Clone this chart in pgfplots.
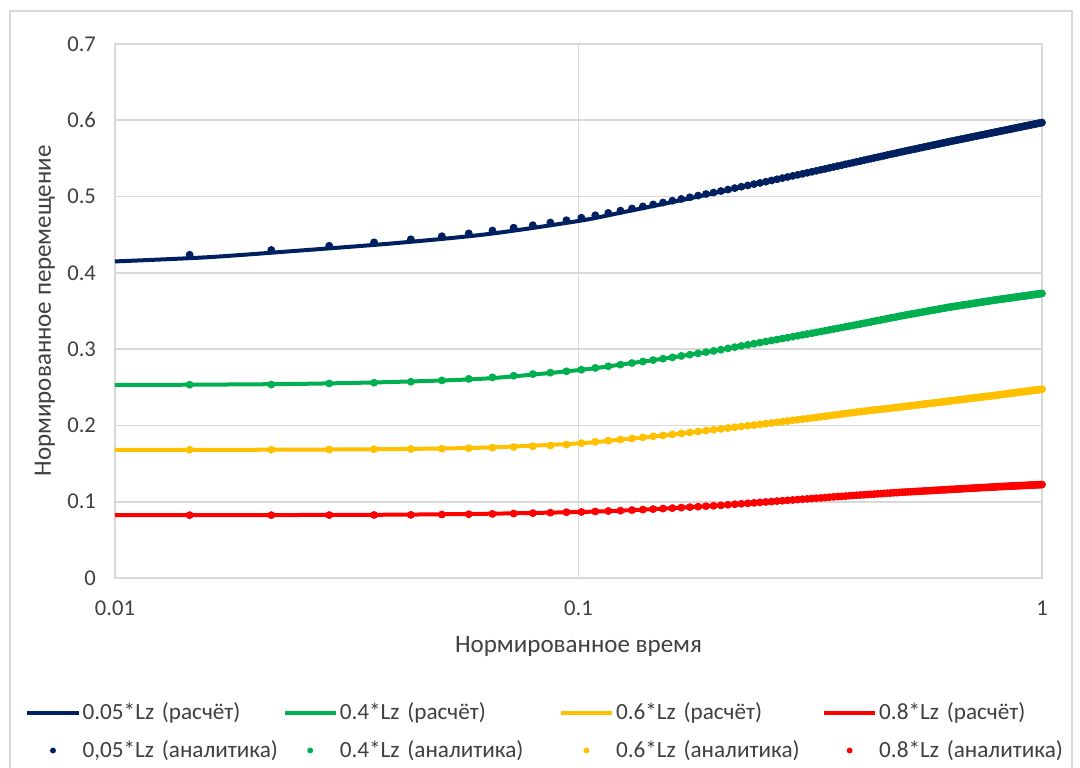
\documentclass[border=0pt]{standalone}
\usepackage{pgfplots}
\pgfplotsset{compat=1.18}
\usepackage{pgfplotstable}
\usepackage{fontspec}
\setmainfont{Carlito}
\definecolor{cnavy}{HTML}{002060}
\definecolor{cgreen}{HTML}{00B050}
\definecolor{cyellow}{HTML}{FFC000}
\definecolor{cred}{HTML}{FF0000}
\definecolor{cgrid}{HTML}{D9D9D9}
\definecolor{ctext}{HTML}{404040}

% computed curves (x, 0.05Lz, 0.4Lz, 0.6Lz, 0.8Lz)
\pgfplotstableread{
x a b c d
0.01 0.4150 0.2530 0.1680 0.0825
0.01585 0.4205 0.2535 0.1680 0.0825
0.02512 0.4293 0.2545 0.1683 0.0826
0.03981 0.4387 0.2570 0.1690 0.0830
0.0631 0.4505 0.2615 0.1710 0.0842
0.1 0.4680 0.2725 0.1765 0.0865
0.1259 0.4800 0.2805 0.1820 0.0885
0.1585 0.4925 0.2890 0.1880 0.0915
0.1995 0.5055 0.2985 0.1950 0.0950
0.2512 0.5190 0.3095 0.2020 0.0995
0.3162 0.5320 0.3205 0.2095 0.1040
0.3981 0.5455 0.3320 0.2175 0.1085
0.5012 0.5590 0.3440 0.2245 0.1125
0.631 0.5720 0.3550 0.2320 0.1160
0.7943 0.5845 0.3645 0.2395 0.1195
1.0 0.5970 0.3730 0.2475 0.1225
}\linedata

% analytic points
\pgfplotstableread{
x a b c d
0.01449 .4237 .2533 .1680 .0824
0.02174 .4300 .2536 .1681 .0824
0.02899 .4355 .2550 .1684 .0825
0.03623 .4400 .2560 .1688 .0826
0.04348 .4440 .2573 .1691 .0828
0.05072 .4480 .2590 .1695 .0832
0.05797 .4517 .2610 .1701 .0836
0.06522 .4555 .2630 .1708 .0840
0.07246 .4592 .2652 .1717 .0845
0.07971 .4625 .2673 .1727 .0850
0.08696 .4660 .2692 .1737 .0856
0.09420 .4690 .2710 .1749 .0862
0.10145 .4722 .2730 .1768 .0866
0.10870 .4755 .2754 .1785 .0872
0.11594 .4786 .2776 .1800 .0878
0.12319 .4816 .2797 .1815 .0883
0.13043 .4844 .2818 .1829 .0890
0.13768 .4871 .2838 .1843 .0897
0.14493 .4897 .2857 .1857 .0903
0.15217 .4922 .2875 .1869 .0910
0.15942 .4946 .2892 .1882 .0916
0.16667 .4969 .2911 .1895 .0923
0.17391 .4991 .2928 .1908 .0929
0.18116 .5013 .2945 .1921 .0935
0.18841 .5034 .2961 .1933 .0941
0.19565 .5053 .2977 .1944 .0947
0.20290 .5073 .2993 .1955 .0953
0.21014 .5092 .3010 .1966 .0960
0.21739 .5111 .3026 .1976 .0967
0.22464 .5129 .3042 .1986 .0973
0.23188 .5146 .3057 .1996 .0979
0.23913 .5163 .3071 .2005 .0985
0.24638 .5179 .3086 .2014 .0991
0.25362 .5195 .3100 .2023 .0997
0.26087 .5211 .3113 .2032 .1002
0.26812 .5227 .3126 .2041 .1008
0.27536 .5242 .3139 .2050 .1013
0.28261 .5257 .3151 .2058 .1018
0.28986 .5271 .3163 .2067 .1023
0.29710 .5285 .3175 .2075 .1028
0.30435 .5298 .3187 .2083 .1033
0.31159 .5312 .3198 .2090 .1037
0.31884 .5325 .3209 .2098 .1042
0.32609 .5338 .3220 .2106 .1046
0.33333 .5351 .3231 .2113 .1050
0.34058 .5363 .3242 .2121 .1054
0.34783 .5376 .3253 .2128 .1059
0.35507 .5388 .3263 .2135 .1063
0.36232 .5400 .3273 .2142 .1067
0.36957 .5411 .3283 .2149 .1070
0.37681 .5423 .3293 .2156 .1074
0.38406 .5434 .3302 .2163 .1078
0.39130 .5445 .3311 .2169 .1082
0.39855 .5456 .3321 .2175 .1085
0.40580 .5466 .3330 .2181 .1088
0.41304 .5477 .3339 .2186 .1091
0.42029 .5487 .3348 .2191 .1094
0.42754 .5497 .3357 .2197 .1097
0.43478 .5507 .3366 .2202 .1100
0.44203 .5516 .3375 .2207 .1103
0.44928 .5526 .3383 .2212 .1106
0.45652 .5535 .3391 .2217 .1109
0.46377 .5545 .3400 .2221 .1112
0.47101 .5554 .3408 .2226 .1114
0.47826 .5563 .3416 .2231 .1117
0.48551 .5571 .3423 .2235 .1119
0.49275 .5580 .3431 .2240 .1122
0.50000 .5589 .3439 .2244 .1125
0.50725 .5597 .3446 .2249 .1127
0.51449 .5605 .3453 .2254 .1129
0.52174 .5613 .3459 .2258 .1131
0.52899 .5620 .3466 .2263 .1133
0.53623 .5628 .3472 .2267 .1135
0.54348 .5636 .3479 .2271 .1137
0.55072 .5643 .3485 .2276 .1139
0.55797 .5651 .3491 .2280 .1141
0.56522 .5658 .3497 .2284 .1143
0.57246 .5665 .3504 .2288 .1145
0.57971 .5672 .3510 .2292 .1147
0.58696 .5679 .3515 .2296 .1149
0.59420 .5686 .3521 .2300 .1151
0.60145 .5693 .3527 .2304 .1153
0.60870 .5700 .3533 .2308 .1155
0.61594 .5706 .3538 .2312 .1156
0.62319 .5713 .3544 .2316 .1158
0.63043 .5720 .3550 .2320 .1160
0.63768 .5726 .3554 .2323 .1162
0.64493 .5732 .3559 .2327 .1163
0.65217 .5738 .3564 .2331 .1165
0.65942 .5744 .3568 .2334 .1167
0.66667 .5750 .3573 .2338 .1168
0.67391 .5756 .3577 .2341 .1170
0.68116 .5762 .3582 .2345 .1172
0.68841 .5767 .3586 .2348 .1173
0.69565 .5773 .3590 .2352 .1175
0.70290 .5779 .3595 .2355 .1176
0.71014 .5784 .3599 .2359 .1178
0.71739 .5790 .3603 .2362 .1180
0.72464 .5795 .3607 .2365 .1181
0.73188 .5801 .3611 .2368 .1183
0.73913 .5806 .3615 .2372 .1184
0.74638 .5811 .3619 .2375 .1186
0.75362 .5816 .3623 .2378 .1187
0.76087 .5822 .3627 .2381 .1188
0.76812 .5827 .3631 .2384 .1190
0.77536 .5832 .3635 .2387 .1191
0.78261 .5837 .3639 .2390 .1193
0.78986 .5842 .3643 .2393 .1194
0.79710 .5847 .3646 .2396 .1195
0.80435 .5852 .3650 .2399 .1197
0.81159 .5857 .3653 .2402 .1198
0.81884 .5862 .3656 .2406 .1199
0.82609 .5866 .3659 .2409 .1200
0.83333 .5871 .3663 .2412 .1201
0.84058 .5876 .3666 .2415 .1202
0.84783 .5880 .3669 .2418 .1203
0.85507 .5885 .3672 .2421 .1205
0.86232 .5890 .3675 .2424 .1206
0.86957 .5894 .3678 .2426 .1207
0.87681 .5899 .3681 .2429 .1208
0.88406 .5903 .3685 .2432 .1209
0.89130 .5908 .3688 .2435 .1210
0.89855 .5912 .3691 .2438 .1211
0.90580 .5916 .3693 .2441 .1212
0.91304 .5921 .3696 .2443 .1213
0.92029 .5925 .3699 .2446 .1214
0.92754 .5929 .3702 .2449 .1215
0.93478 .5933 .3705 .2452 .1216
0.94203 .5938 .3708 .2454 .1217
0.94928 .5942 .3711 .2457 .1218
0.95652 .5946 .3714 .2460 .1219
0.96377 .5950 .3716 .2462 .1220
0.97101 .5954 .3719 .2465 .1221
0.97826 .5958 .3722 .2467 .1222
0.98551 .5962 .3725 .2470 .1223
0.99275 .5966 .3727 .2472 .1224
1.00000 .5970 .3730 .2475 .1225
}\dotdata

\begin{document}
\begin{tikzpicture}
\useasboundingbox (0,0) rectangle (540pt,383.5pt);
\fill[white] (0,0) rectangle (540pt,383.5pt);
\draw[cgrid, line width=0.8pt] (5pt,-2pt) rectangle (536pt,378pt);
\begin{axis}[
  at={(57.5pt,94.5pt)}, anchor=south west,
  scale only axis, width=463.5pt, height=267pt,
  xmode=log, xmin=0.01, xmax=1, ymin=0, ymax=0.7,
  xtick={0.01,0.1,1}, xticklabels={0.01,0.1,1},
  ytick={0,0.1,0.2,0.3,0.4,0.5,0.6,0.7},
  yticklabels={0,0.1,0.2,0.3,0.4,0.5,0.6,0.7},
  grid=major, major grid style={cgrid, line width=0.8pt},
  axis line style={cgrid, line width=0.8pt},
  major tick length=0pt, minor tick length=0pt,
  tick label style={font=\fontsize{11.3}{13}\selectfont, text=ctext},
  yticklabel style={xshift=-6pt},
  xticklabel style={yshift=-8pt},
  xlabel={Нормированное время},
  ylabel={Нормированное перемещение},
  label style={font=\fontsize{12.5}{15}\selectfont, text=ctext},
  xlabel style={at={(axis description cs:0.5,-0.129)}, anchor=center},
  ylabel style={at={(axis description cs:-0.0755,0.5)}, anchor=center},
  clip=false,
  legend columns=4,
  legend cell align=left,
  legend image code/.code={\draw[mark repeat=2,mark phase=2,#1] plot coordinates {(0cm,0cm) (0.45cm,0cm) (0.9cm,0cm)};},
  legend style={at={(axis description cs:-0.0971,-0.225)}, anchor=north west,
    draw=none, fill=none, inner sep=0pt, row sep=5pt,
    font=\fontsize{11.6}{14}\selectfont, text=ctext,
    nodes={inner xsep=1pt},
    /tikz/column 2/.style={text width=99pt},
    /tikz/column 4/.style={text width=108.5pt},
    /tikz/column 6/.style={text width=102pt},
    /tikz/column 8/.style={text width=103pt}},
]
\addplot[cnavy, line width=2pt, smooth, no marks] table[x=x,y=a] {\linedata};
\addlegendentry{0.05*Lz (расчёт)}
\addplot[cgreen, line width=2pt, smooth, no marks] table[x=x,y=b] {\linedata};
\addlegendentry{0.4*Lz (расчёт)}
\addplot[cyellow, line width=2pt, smooth, no marks] table[x=x,y=c] {\linedata};
\addlegendentry{0.6*Lz (расчёт)}
\addplot[cred, line width=2pt, smooth, no marks] table[x=x,y=d] {\linedata};
\addlegendentry{0.8*Lz (расчёт)}
\addplot[cnavy, only marks, mark=*, mark size=1.75pt, legend image post style={mark size=1.25pt}] table[x=x,y=a] {\dotdata};
\addlegendentry{0,05*Lz~(аналитика)}
\addplot[cgreen, only marks, mark=*, mark size=1.75pt, legend image post style={mark size=1.25pt}] table[x=x,y=b] {\dotdata};
\addlegendentry{0.4*Lz (аналитика)}
\addplot[cyellow, only marks, mark=*, mark size=1.75pt, legend image post style={mark size=1.25pt}] table[x=x,y=c] {\dotdata};
\addlegendentry{0.6*Lz (аналитика)}
\addplot[cred, only marks, mark=*, mark size=1.75pt, legend image post style={mark size=1.25pt}] table[x=x,y=d] {\dotdata};
\addlegendentry{0.8*Lz (аналитика)}
\end{axis}
\end{tikzpicture}
\end{document}
